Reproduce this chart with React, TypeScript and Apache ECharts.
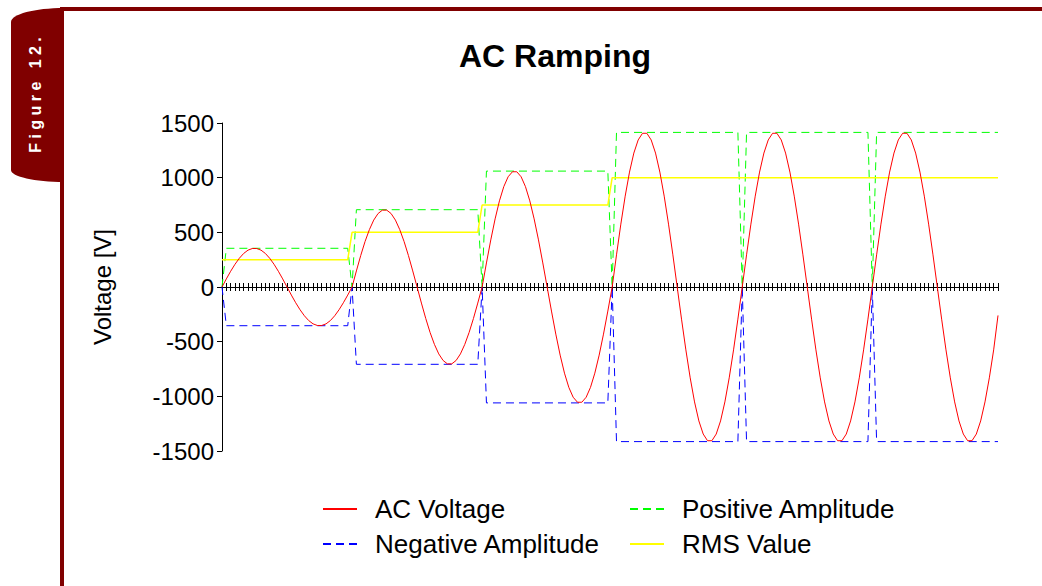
import React, { useEffect, useRef } from "react";
import * as echarts from "echarts";

// AC voltage samples (30 samples per cycle), one array per cycle
const acCycle1 = [0, 74, 144, 208, 263, 307, 337, 352, 352, 337, 307, 263, 208, 144, 74, 0, -74, -144, -208, -263, -307, -337, -352, -352, -337, -307, -263, -208, -144, -74];
const acCycle2 = [0, 147, 288, 416, 525, 612, 672, 703, 703, 672, 612, 525, 416, 288, 147, 0, -147, -288, -416, -525, -612, -672, -703, -703, -672, -612, -525, -416, -288, -147];
const acCycle3 = [0, 220, 431, 623, 788, 918, 1008, 1054, 1054, 1008, 918, 788, 623, 431, 220, 0, -220, -431, -623, -788, -918, -1008, -1054, -1054, -1008, -918, -788, -623, -431, -220];
const acCycle4 = [0, 294, 575, 831, 1051, 1225, 1345, 1406, 1406, 1345, 1225, 1051, 831, 575, 294, 0, -294, -575, -831, -1051, -1225, -1345, -1406, -1406, -1345, -1225, -1051, -831, -575, -294];
const acCycle5 = [0, 294, 575, 831, 1051, 1225, 1345, 1406, 1406, 1345, 1225, 1051, 831, 575, 294, 0, -294, -575, -831, -1051, -1225, -1345, -1406, -1406, -1345, -1225, -1051, -831, -575, -294];
const acCycle6 = [0, 294, 575, 831, 1051, 1225, 1345, 1406, 1406, 1345, 1225, 1051, 831, 575, 294, 0, -294, -575, -831, -1051, -1225, -1345, -1406, -1406, -1345, -1225, -1051, -831, -575, -260];

// [sample index, volts]
const positiveAmplitude = [[0, 0], [1, 354], [29, 354], [30, 0], [31, 707], [59, 707], [60, 0], [61, 1060], [89, 1060], [90, 0], [91, 1414], [119, 1414], [120, 0], [121, 1414], [149, 1414], [150, 0], [151, 1414], [179, 1414]];
const negativeAmplitude = [[0, 0], [1, -354], [29, -354], [30, 0], [31, -707], [59, -707], [60, 0], [61, -1060], [89, -1060], [90, 0], [91, -1414], [119, -1414], [120, 0], [121, -1414], [149, -1414], [150, 0], [151, -1414], [179, -1414]];
const rmsValue = [[0, 250], [29, 250], [30, 500], [59, 500], [60, 750], [89, 750], [90, 1000], [179, 1000]];

const seriesNames = ["AC Voltage", "Positive Amplitude", "Negative Amplitude", "RMS Value"];
const yTicks = { min: -1500, max: 1500, interval: 500 };
const sampleCount = 180;

const FONT = "'Liberation Sans', Arial, sans-serif";
const FRAME = "#800000";

export default function App() {
  const ref = useRef<HTMLDivElement>(null);
  useEffect(() => {
    document.body.style.margin = "0";
    if (!ref.current) return;
    const tabPath =
      "M64 8 L64 182 C34.7 182 11 176.6 11 170 L11 22 C11 14.3 34.7 8 64 8 Z";
    echarts.graphic.registerShape("figtab", echarts.graphic.extendPath(tabPath, {}) as any);
    const chart = echarts.init(ref.current, null, { renderer: "svg" });
    const acValues = [...acCycle1, ...acCycle2, ...acCycle3, ...acCycle4, ...acCycle5, ...acCycle6];
    const acData = acValues.map((v, i) => [i, v]);

    const legendBase = {
      orient: "horizontal",
      itemWidth: 34,
      itemHeight: 14,
      padding: 0,
      selectedMode: false,
      itemStyle: { opacity: 0 },
      textStyle: { fontSize: 26, color: "#000", fontFamily: FONT, padding: [0, 0, 0, 13], lineHeight: 28 },
    };
    const xBase = {
      type: "value",
      min: 0,
      max: sampleCount - 1,
      interval: 1,
      axisLabel: { show: false },
      splitLine: { show: false },
    };

    chart.setOption({
      animation: false,
      backgroundColor: "#fff",
      title: {
        text: "AC Ramping",
        left: 550,
        textAlign: "center",
        top: 35,
        textStyle: { fontSize: 32, fontWeight: "bold", color: "#000", fontFamily: FONT },
      },
      graphic: [
        { type: "rect", shape: { x: 60, y: 7, width: 982, height: 4 }, style: { fill: FRAME } },
        { type: "rect", shape: { x: 60, y: 7, width: 4, height: 579 }, style: { fill: FRAME } },
        { type: "figtab", x: 0, y: 0, scaleX: 1, scaleY: 1, style: { fill: FRAME } },
        {
          type: "text",
          x: 35,
          y: 95,
          rotation: Math.PI / 2,
          style: {
            text: "F i g u r e   1 2 .",
            fill: "#fff",
            fontSize: 16,
            fontWeight: "bold",
            fontFamily: FONT,
            textAlign: "center",
            textVerticalAlign: "middle",
          },
        },
      ],
      legend: [
        { ...legendBase, data: [seriesNames[0]], left: 322, top: 495 },
        { ...legendBase, data: [seriesNames[1]], left: 629, top: 495 },
        { ...legendBase, data: [seriesNames[2]], left: 322, top: 530 },
        { ...legendBase, data: [seriesNames[3]], left: 629, top: 530 },
      ],
      grid: { left: 222, right: 44, top: 123, bottom: 135 },
      xAxis: [
        {
          ...xBase,
          axisLine: { show: true, onZero: true, onZeroAxisIndex: 0, lineStyle: { color: "#000", width: 1 } },
          axisTick: { show: true, inside: false, length: 4, lineStyle: { color: "#000", width: 1 } },
        },
        {
          ...xBase,
          position: "bottom",
          axisLine: { show: true, onZero: true, onZeroAxisIndex: 0, lineStyle: { color: "#000", width: 1 } },
          axisTick: { show: true, inside: true, length: 4, lineStyle: { color: "#000", width: 1 } },
        },
      ],
      yAxis: {
        type: "value",
        min: yTicks.min,
        max: yTicks.max,
        interval: yTicks.interval,
        name: "Voltage [V]",
        nameLocation: "middle",
        nameGap: 108,
        nameRotate: 90,
        nameTextStyle: { fontSize: 24, color: "#000", fontFamily: FONT },
        axisLine: { show: true, onZero: false, lineStyle: { color: "#000", width: 1 } },
        axisTick: { show: true, length: 5, lineStyle: { color: "#000" } },
        axisLabel: { fontSize: 24, color: "#000", fontFamily: FONT, margin: 8, formatter: (v: number) => String(v) },
        splitLine: { show: false },
      },
      series: [
        {
          name: seriesNames[1],
          type: "line",
          data: positiveAmplitude,
          symbol: "none",
          z: 2,
          lineStyle: { color: "#00ff00", width: 1, type: [8, 5] },
          itemStyle: { color: "#00ff00" },
        },
        {
          name: seriesNames[2],
          type: "line",
          data: negativeAmplitude,
          symbol: "none",
          z: 2,
          lineStyle: { color: "#0000ff", width: 1, type: [8, 5] },
          itemStyle: { color: "#0000ff" },
        },
        {
          name: seriesNames[3],
          type: "line",
          data: rmsValue,
          symbol: "none",
          z: 2,
          lineStyle: { color: "#ffff00", width: 1.5 },
          itemStyle: { color: "#ffff00" },
        },
        {
          name: seriesNames[0],
          type: "line",
          data: acData,
          symbol: "none",
          z: 3,
          lineStyle: { color: "#ff0000", width: 1 },
          itemStyle: { color: "#ff0000" },
        },
      ],
    } as any);
    return () => chart.dispose();
  }, []);
  return <div ref={ref} style={{ width: 1042, height: 586 }} />;
}
